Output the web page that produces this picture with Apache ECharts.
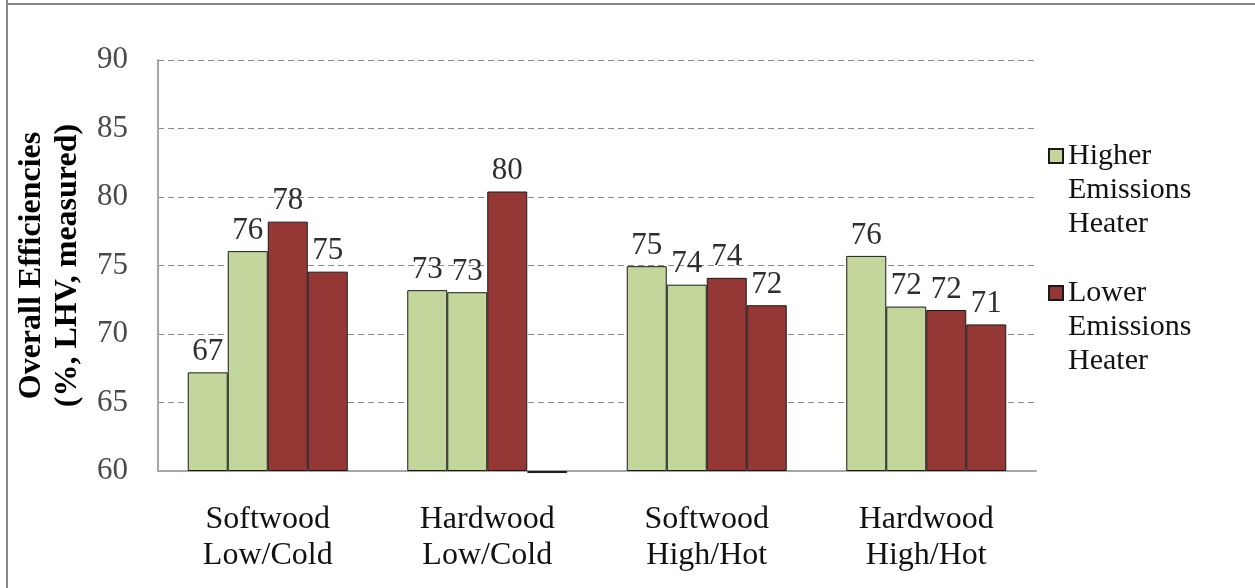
<!DOCTYPE html>
<html>
<head>
<meta charset="utf-8">
<script src="https://cdn.jsdelivr.net/npm/echarts@6/dist/echarts.min.js"></script>
<style>
html,body{margin:0;padding:0;background:#fff;}
#chart{width:1255px;height:588px;}
</style>
</head>
<body>
<div id="chart"></div>
<script>
const categories = ['Softwood\nLow/Cold', 'Hardwood\nLow/Cold', 'Softwood\nHigh/Hot', 'Hardwood\nHigh/Hot'];
const higherA = [67.2, 73.2, 74.95, 75.7];
const higherB = [76.05, 73.05, 73.6, 72.0];
const lowerA = [78.2, 80.4, 74.1, 71.75];
const lowerB = [74.55, 59.85, 72.1, 70.7];
const seriesNames = ['Higher Emissions Heater', 'Lower Emissions Heater'];
const yTicks = { min: 60, max: 90, interval: 5 };

const GREEN = '#C3D69B';
const RED = '#953735';
const FONT = '"Liberation Serif", "DejaVu Serif", serif';
// square legend marker placed at the top line of a 3-line label
const LEGEND_ICON = 'path://M0 10L14 10L14 24L0 24Z M0 0 M0 102';

const chart = echarts.init(document.getElementById('chart'));

function barSeries(name, data, color) {
  return {
    name: name,
    type: 'bar',
    data: data,
    barWidth: 40,
    barGap: '0%',
    clip: false,
    itemStyle: { color: color, borderColor: '#1a1a1a', borderWidth: 1 },
    label: {
      show: true,
      position: 'top',
      distance: 5,
      fontFamily: FONT,
      fontSize: 31,
      color: '#2e2e2e',
      formatter: p => (p.value >= yTicks.min ? Math.round(p.value).toString() : '')
    },
    emphasis: { disabled: true }
  };
}

chart.setOption({
  animation: false,
  backgroundColor: '#fff',
  graphic: [
    { type: 'line', shape: { x1: 7, y1: 0, x2: 7, y2: 588 }, style: { stroke: '#888', lineWidth: 2 } },
    { type: 'line', shape: { x1: 6, y1: 4, x2: 1255, y2: 4 }, style: { stroke: '#888', lineWidth: 2 } }
  ],
  grid: { left: 158, right: 219, top: 60, bottom: 117, containLabel: false, outerBoundsMode: 'none' },
  legend: {
    data: seriesNames,
    orient: 'vertical',
    left: 1048,
    top: 138,
    padding: 0,
    icon: LEGEND_ICON,
    itemWidth: 14,
    itemHeight: 102,
    itemGap: 33,
    selectedMode: false,
    formatter: n => n.split(' ').join('\n'),
    textStyle: { fontFamily: FONT, fontSize: 30, lineHeight: 34, color: '#111' }
  },
  xAxis: {
    type: 'category',
    data: categories,
    axisLine: { show: true, lineStyle: { color: '#a6a6a6', width: 2 } },
    axisTick: { show: false },
    axisLabel: { fontFamily: FONT, fontSize: 32, lineHeight: 36, color: '#111', margin: 31 }
  },
  yAxis: {
    type: 'value',
    min: yTicks.min, max: yTicks.max, interval: yTicks.interval,
    startValue: yTicks.min,
    name: 'Overall Efficiencies\n(%, LHV, measured)',
    nameLocation: 'middle',
    nameGap: 69,
    nameRotate: 90,
    nameTextStyle: { fontFamily: FONT, fontSize: 32, fontWeight: 'bold', lineHeight: 36, color: '#000' },
    axisLine: { show: true, lineStyle: { color: '#a6a6a6', width: 2 } },
    axisTick: { show: false },
    axisLabel: { fontFamily: FONT, fontSize: 31, color: '#4a4a4a', margin: 30 },
    splitLine: { show: true, lineStyle: { color: '#8a8a8a', type: [6, 4], width: 1 } }
  },
  series: [
    barSeries(seriesNames[0], higherA, GREEN),
    barSeries(seriesNames[0], higherB, GREEN),
    barSeries(seriesNames[1], lowerA, RED),
    barSeries(seriesNames[1], lowerB, RED)
  ]
});
</script>
</body>
</html>
